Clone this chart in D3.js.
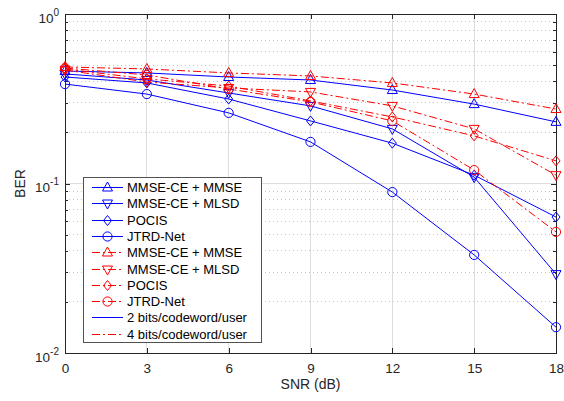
<!DOCTYPE html>
<html><head><meta charset="utf-8">
<script src="https://cdn.jsdelivr.net/npm/d3@7"></script>
<style>body{margin:0;background:#fff}svg{display:block;font-family:"Liberation Sans",Arial,Helvetica,sans-serif}</style>
</head><body><svg id="c" width="564" height="401"></svg>
<script>
const snr = [0, 3, 6, 9, 12, 15, 18];
const xTicks = [0, 3, 6, 9, 12, 15, 18];
const yDecades = [1, 0.1, 0.01];
const yTickExps = ["0", "-1", "-2"];

// 2 bits/codeword/user (blue, solid)
const b_mmse  = [0.461, 0.449, 0.425, 0.408, 0.356, 0.294, 0.231];
const b_mlsd  = [0.443, 0.408, 0.342, 0.287, 0.210, 0.109, 0.0292];
const b_pocis = [0.425, 0.392, 0.315, 0.234, 0.173, 0.112, 0.0634];
const b_jtrd  = [0.386, 0.337, 0.261, 0.176, 0.089, 0.0379, 0.0142];
// 4 bits/codeword/user (red, dash-dot)
const r_mmse  = [0.487, 0.474, 0.449, 0.431, 0.392, 0.337, 0.275];
const r_mlsd  = [0.467, 0.397, 0.366, 0.347, 0.287, 0.210, 0.112];
const r_pocis = [0.474, 0.414, 0.376, 0.307, 0.247, 0.191, 0.136];
const r_jtrd  = [0.480, 0.437, 0.361, 0.303, 0.234, 0.120, 0.0518];

const legendLabels = ["MMSE-CE + MMSE","MMSE-CE + MLSD","POCIS","JTRD-Net","MMSE-CE + MMSE","MMSE-CE + MLSD","POCIS","JTRD-Net","2 bits/codeword/user","4 bits/codeword/user"];

const BLUE = "#0000ff", RED = "#ff0000";
const DASHDOT = "8,3,2,3";
const series = [
  {v: b_mmse, c: BLUE, m: "up"}, {v: b_mlsd, c: BLUE, m: "down"},
  {v: b_pocis, c: BLUE, m: "diamond"}, {v: b_jtrd, c: BLUE, m: "circle"},
  {v: r_mmse, c: RED, m: "up", d: DASHDOT}, {v: r_mlsd, c: RED, m: "down", d: DASHDOT},
  {v: r_pocis, c: RED, m: "diamond", d: DASHDOT}, {v: r_jtrd, c: RED, m: "circle", d: DASHDOT}
];

const L = 65, R = 556, T = 14, B = 353;
const x = d3.scaleLinear().domain([0, 18]).range([L, R]);
const y = d3.scaleLog().domain([0.01, 1]).range([B, T]);
const svg = d3.select("#c");
const AX = "#262626";

// minor grid (dotted)
const minors = [];
for (const d of [0.01, 0.1]) for (let k = 2; k <= 9; k++) minors.push(d * k);
svg.append("g").selectAll("line").data(minors).join("line")
  .attr("x1", L).attr("x2", R).attr("y1", d => y(d)).attr("y2", d => y(d))
  .attr("stroke", "#c4c4c4").attr("stroke-width", 1).attr("stroke-dasharray", "1,3")
  .attr("shape-rendering", "crispEdges");
// major grid
svg.append("g").selectAll("line").data(xTicks.slice(1, -1)).join("line")
  .attr("x1", d => x(d)).attr("x2", d => x(d)).attr("y1", T).attr("y2", B)
  .attr("stroke", "#dedede").attr("stroke-width", 1).attr("shape-rendering", "crispEdges");
svg.append("g").selectAll("line").data([0.1]).join("line")
  .attr("x1", L).attr("x2", R).attr("y1", d => y(d)).attr("y2", d => y(d))
  .attr("stroke", "#dedede").attr("stroke-width", 1).attr("shape-rendering", "crispEdges");

// axes
const gx = svg.append("g").attr("transform", `translate(0,${B})`)
  .call(d3.axisBottom(x).tickValues(xTicks).tickSize(-5).tickPadding(10).tickFormat(d3.format("d")));
const gxt = svg.append("g").attr("transform", `translate(0,${T})`)
  .call(d3.axisTop(x).tickValues(xTicks).tickSize(-5).tickFormat(""));
const gy = svg.append("g").attr("transform", `translate(${L},0)`)
  .call(d3.axisLeft(y).tickValues(yDecades).tickSize(-5).tickFormat(""));
const gyr = svg.append("g").attr("transform", `translate(${R},0)`)
  .call(d3.axisRight(y).tickValues(yDecades).tickSize(-5).tickFormat(""));
const gym = svg.append("g").attr("transform", `translate(${L},0)`)
  .call(d3.axisLeft(y).tickValues(minors).tickSize(-3).tickFormat(""));
const gymr = svg.append("g").attr("transform", `translate(${R},0)`)
  .call(d3.axisRight(y).tickValues(minors).tickSize(-3).tickFormat(""));
for (const g of [gx, gxt, gy, gyr, gym, gymr]) {
  g.select(".domain").remove();
  g.attr("font-size", null).attr("font-family", null);
  g.selectAll("line").attr("stroke", AX).attr("shape-rendering", "crispEdges");
}
gx.selectAll("text").attr("font-size", 13.5).attr("fill", AX);

// box
svg.append("rect").attr("x", L).attr("y", T).attr("width", R - L).attr("height", B - T)
  .attr("fill", "none").attr("stroke", AX).attr("stroke-width", 1).attr("shape-rendering", "crispEdges");

// y tick labels
const ylab = svg.append("g");
yDecades.forEach((d, i) => {
  const t = ylab.append("text").attr("x", 59).attr("y", y(d) + 8.5).attr("text-anchor", "end")
    .attr("fill", AX).attr("font-size", 13.5);
  t.append("tspan").text("10");
  t.append("tspan").attr("dy", -7).attr("font-size", 10).text(yTickExps[i]);
});

// axis titles
svg.append("text").attr("x", (L + R) / 2).attr("y", 389).attr("text-anchor", "middle")
  .attr("font-size", 14).attr("fill", AX).text("SNR (dB)");
svg.append("text").attr("transform", `translate(25,${(T + B) / 2}) rotate(-90)`).attr("text-anchor", "middle")
  .attr("font-size", 14).attr("fill", AX).text("BER");

// markers
function marker(g, type, cx, cy, color) {
  if (type === "circle") {
    g.append("circle").attr("cx", cx).attr("cy", cy).attr("r", 4.6)
      .attr("fill", "none").attr("stroke", color).attr("stroke-width", 1);
  } else {
    let pts;
    if (type === "up") pts = [[0, -5.5], [5, 3.5], [-5, 3.5]];
    else if (type === "down") pts = [[0, 5.5], [5, -3.5], [-5, -3.5]];
    else pts = [[0, -5], [4, 0], [0, 5], [-4, 0]];
    g.append("polygon").attr("points", pts.map(p => [cx + p[0], cy + p[1]].join(",")).join(" "))
      .attr("fill", "none").attr("stroke", color).attr("stroke-width", 1);
  }
}

const line = d3.line().x((d, i) => x(snr[i])).y(d => y(d));
const plot = svg.append("g");
series.forEach(s => {
  const g = plot.append("g");
  g.append("path").attr("d", line(s.v)).attr("fill", "none").attr("stroke", s.c)
    .attr("stroke-width", 1).attr("stroke-dasharray", s.d || null);
  s.v.forEach((v, i) => marker(g, s.m, x(snr[i]), y(v), s.c));
});

// legend
const lg = svg.append("g");
lg.append("rect").attr("x", 83).attr("y", 177).attr("width", 178).attr("height", 165)
  .attr("fill", "#fff").attr("stroke", AX).attr("stroke-width", 0.8).attr("shape-rendering", "crispEdges");
legendLabels.forEach((lab, i) => {
  const cy = Math.round(187 + i * 16.3) + 0.5;
  const s = i < 8 ? series[i] : {c: i === 8 ? BLUE : RED, d: i === 9 ? DASHDOT : null};
  lg.append("line").attr("x1", 92).attr("x2", 123).attr("y1", cy).attr("y2", cy)
    .attr("stroke", s.c).attr("stroke-width", 1).attr("stroke-dasharray", s.d || null);
  if (s.m) marker(lg, s.m, 107.5, cy, s.c);
  lg.append("text").attr("x", 127).attr("y", cy + 4.5).attr("font-size", 13).attr("fill", "#000").text(lab);
});
</script></body></html>
